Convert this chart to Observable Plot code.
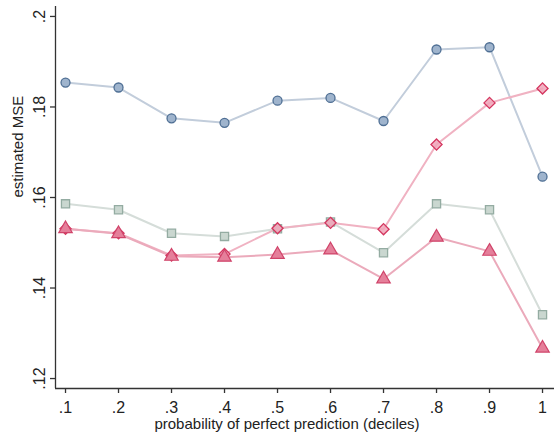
<!DOCTYPE html>
<html>
<head>
<meta charset="utf-8">
<script src="https://cdn.jsdelivr.net/npm/d3@7"></script>
<script src="https://cdn.jsdelivr.net/npm/@observablehq/plot@0.6"></script>
<style>
  html, body { margin: 0; padding: 0; background: #fff; }
</style>
</head>
<body>
<div id="chart"></div>
<script>
const deciles = [0.1, 0.2, 0.3, 0.4, 0.5, 0.6, 0.7, 0.8, 0.9, 1.0];
const seriesCircle   = [0.1854, 0.1843, 0.1775, 0.1765, 0.1814, 0.1820, 0.1769, 0.1927, 0.1932, 0.1646];
const seriesSquare   = [0.1586, 0.1573, 0.1521, 0.1514, 0.1531, 0.1546, 0.1478, 0.1586, 0.1573, 0.1341];
const seriesDiamond  = [0.1531, 0.1521, 0.1472, 0.1475, 0.1532, 0.1544, 0.1530, 0.1717, 0.1809, 0.1841];
const seriesTriangle = [0.1531, 0.1520, 0.1470, 0.1468, 0.1474, 0.1484, 0.1420, 0.1512, 0.1481, 0.1267];
const xTicks = [0.1, 0.2, 0.3, 0.4, 0.5, 0.6, 0.7, 0.8, 0.9, 1];
const xTickLabels = [".1", ".2", ".3", ".4", ".5", ".6", ".7", ".8", ".9", "1"];
const yTicks = [0.12, 0.14, 0.16, 0.18, 0.2];
const yTickLabels = [".12", ".14", ".16", ".18", ".2"];

const xDomain = [0.0811, 1.0226];
const yDomain = [0.1178, 0.2022];

const mk = (vals) => deciles.map((x, i) => ({x, y: vals[i]}));
const dC = mk(seriesCircle), dS = mk(seriesSquare), dD = mk(seriesDiamond), dT = mk(seriesTriangle);
const xt = xTicks.map((v, i) => ({v, t: xTickLabels[i]}));
const yt = yTicks.map((v, i) => ({v, t: yTickLabels[i]}));

const axisColor = "#333";
const font = "'Liberation Sans', Arial, Helvetica, sans-serif";

const chart = Plot.plot({
  width: 554,
  height: 439,
  marginLeft: 55,
  marginRight: 0,
  marginTop: 6,
  marginBottom: 51,
  style: {fontFamily: font, fontSize: "15px", background: "#fff", color: "#222"},
  x: {domain: xDomain, axis: null},
  y: {domain: yDomain, axis: null},
  marks: [
    Plot.ruleX([xDomain[0]], {stroke: axisColor, strokeWidth: 1.3}),
    Plot.ruleY([yDomain[0]], {stroke: axisColor, strokeWidth: 1.3}),
    Plot.axisX({ticks: xTicks, tickSize: 5, tickFormat: () => "", label: null, stroke: axisColor, strokeWidth: 1.3, strokeOpacity: 1}),
    Plot.axisY({ticks: yTicks, tickSize: 5, tickFormat: () => "", label: null, stroke: axisColor, strokeWidth: 1.3, strokeOpacity: 1}),
    Plot.text(xt, {x: "v", text: "t", frameAnchor: "bottom", dy: 19, lineAnchor: "middle", fill: "#222", fontSize: 16}),
    Plot.text(yt, {y: "v", text: "t", frameAnchor: "left", dx: -16, rotate: -90, textAnchor: "middle", lineAnchor: "middle", fill: "#222", fontSize: 16}),
    Plot.text(["probability of perfect prediction (deciles)"], {frameAnchor: "bottom", dy: 36, dx: -18, lineAnchor: "middle", fill: "#222", fontSize: 15}),
    Plot.text(["estimated MSE"], {frameAnchor: "left", dx: -37, rotate: -90, lineAnchor: "middle", fill: "#222", fontSize: 15}),
    Plot.line(dC, {x: "x", y: "y", stroke: "#c2cddb", strokeWidth: 2}),
    Plot.line(dS, {x: "x", y: "y", stroke: "#d5ddd9", strokeWidth: 2}),
    Plot.line(dD, {x: "x", y: "y", stroke: "#f0b2c2", strokeWidth: 2}),
    Plot.line(dT, {x: "x", y: "y", stroke: "#ebaabb", strokeWidth: 2}),
    Plot.dot(dC, {x: "x", y: "y", symbol: "circle", r: 4.5, fill: "#9fb4cd", stroke: "#4f6f94", strokeWidth: 1.3}),
    Plot.dot(dS, {x: "x", y: "y", symbol: "square", r: 4.6, fill: "#cad7d0", stroke: "#94aca2", strokeWidth: 1.3}),
    Plot.dot(dD, {x: "x", y: "y", symbol: "diamond2", r: 5, fill: "#f0a4b9", fillOpacity: 0.85, stroke: "#d4365f", strokeWidth: 1.3}),
    Plot.dot(dT, {x: "x", y: "y", symbol: "triangle", r: 5, fill: "#e57f9a", stroke: "#d0446a", strokeWidth: 1.2})
  ]
});

document.getElementById("chart").appendChild(chart);
</script>
</body>
</html>
